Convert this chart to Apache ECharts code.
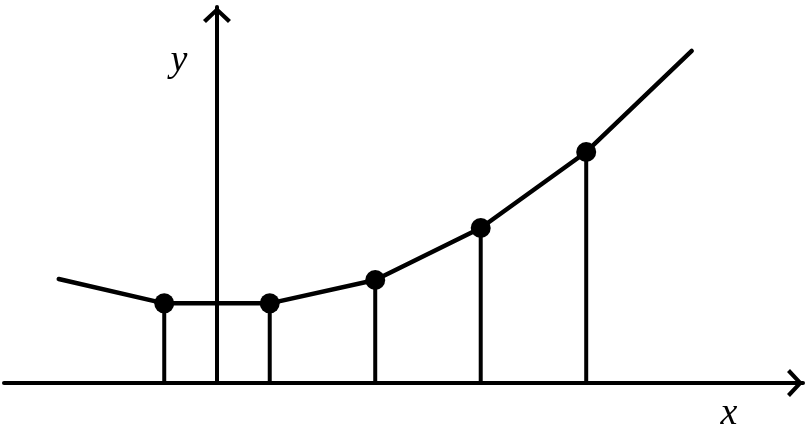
<!DOCTYPE html>
<html>
<head>
<meta charset="utf-8">
<script src="https://cdn.jsdelivr.net/npm/echarts@6/dist/echarts.min.js"></script>
<style>
html,body{margin:0;padding:0;background:#fff;}
#chart{width:808px;height:437px;}
</style>
</head>
<body>
<div id="chart"></div>
<script>
// Curve (polyline) through all points, including the free ends
const curveX = [-1.5, -0.5, 0.5, 1.5, 2.5, 3.5, 4.5];
const curveY = [0.986, 0.755, 0.755, 0.976, 1.469, 2.19, 3.147];
// Marked nodes with vertical stems
const nodeX = [-0.5, 0.5, 1.5, 2.5, 3.5];
const nodeY = [0.755, 0.755, 0.976, 1.469, 2.19];
// Axis names
const xName = 'x';
const yName = 'y';

const curveData = curveX.map((x, i) => [x, curveY[i]]);
const nodeData = nodeX.map((x, i) => [x, nodeY[i]]);

const chevron = 'path://M14,0 L28,13 L25,16 L14,5.5 L3,16 L0,13 Z';

const chart = echarts.init(document.getElementById('chart'), null, {renderer: 'canvas'});
chart.setOption({
  animation: false,
  backgroundColor: '#fff',
  grid: {left: 4, right: 5, top: 7, bottom: 54, containLabel: false},
  xAxis: {
    type: 'value',
    min: -2.019, max: 5.555,
    axisLine: {show: true, onZero: true, lineStyle: {color: '#000', width: 4},
      symbol: ['none', chevron], symbolSize: [28, 16], symbolOffset: [0, -8]},
    axisTick: {show: false}, axisLabel: {show: false}, splitLine: {show: false}
  },
  yAxis: {
    type: 'value',
    min: 0, max: 3.564,
    axisLine: {show: true, onZero: true, lineStyle: {color: '#000', width: 4},
      symbol: ['none', chevron], symbolSize: [30, 16], symbolOffset: [0, -8]},
    axisTick: {show: false}, axisLabel: {show: false}, splitLine: {show: false}
  },
  series: [
    {
      type: 'bar', data: nodeData, barWidth: 4,
      itemStyle: {color: '#000', opacity: 1}, silent: true, z: 1
    },
    {
      type: 'line', data: curveData, symbol: 'none',
      lineStyle: {color: '#000', width: 4.5, cap: 'round', join: 'round', opacity: 1},
      silent: true, z: 2
    },
    {
      type: 'scatter', data: nodeData, symbol: 'circle', symbolSize: 20,
      itemStyle: {color: '#000', opacity: 1}, silent: true, z: 3
    }
  ],
  graphic: [
    {type: 'text', x: 729, y: 414, silent: true,
      style: {text: xName, fontFamily: 'Liberation Serif', fontStyle: 'italic', fontSize: 38,
        fill: '#000', align: 'center', verticalAlign: 'middle'}},
    {type: 'text', x: 179, y: 61, silent: true,
      style: {text: yName, fontFamily: 'Liberation Serif', fontStyle: 'italic', fontSize: 38,
        fill: '#000', align: 'center', verticalAlign: 'middle'}}
  ]
});
</script>
</body>
</html>
